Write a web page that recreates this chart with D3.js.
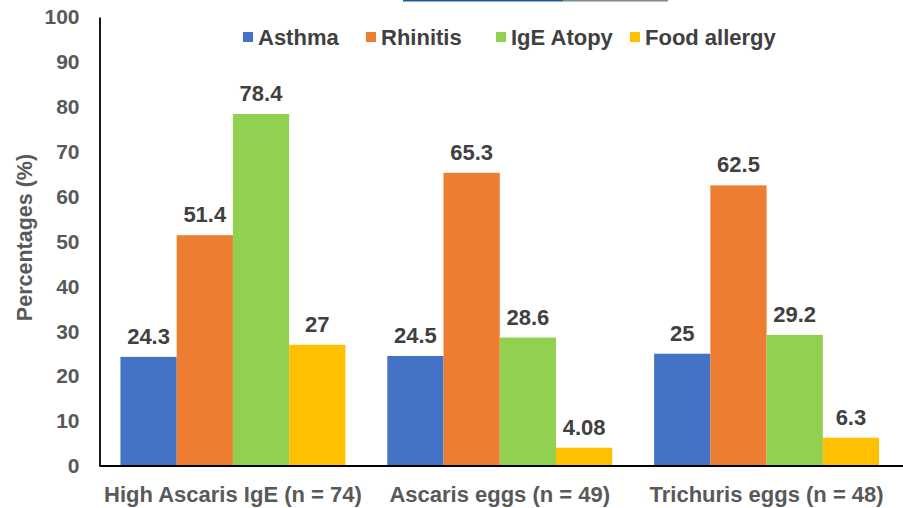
<!DOCTYPE html>
<html><head><meta charset="utf-8">
<script src="https://cdn.jsdelivr.net/npm/d3@7"></script>
<style>body{margin:0;background:#fff}svg{display:block}text{font-family:"Liberation Sans",Arial,sans-serif;font-weight:bold}</style>
</head><body>
<svg id="c" width="903" height="508"></svg>
<script>
const categories = ["High Ascaris IgE (n = 74)", "Ascaris eggs (n = 49)", "Trichuris eggs (n = 48)"];
const seriesNames = ["Asthma", "Rhinitis", "IgE Atopy", "Food allergy"];
const asthma = [24.3, 24.5, 25];
const rhinitis = [51.4, 65.3, 62.5];
const igeAtopy = [78.4, 28.6, 29.2];
const foodAllergy = [27, 4.08, 6.3];
const yTicks = [0,10,20,30,40,50,60,70,80,90,100];
const colors = ["#4472C4", "#ED7D31", "#92D050", "#FFC000"];
const series = [asthma, rhinitis, igeAtopy, foodAllergy];

(function(){
const svg = d3.select("#c");
// thin artifact strip at the very top of the reference image
svg.append("rect").attr("x",403).attr("y",0).attr("width",160).attr("height",1.5).attr("fill","#1f5c99");
svg.append("rect").attr("x",563).attr("y",0).attr("width",105).attr("height",1.5).attr("fill","#7f8c8c");

const mLeft = 99.5, mRight = 900, mTop = 17, mBottom = 466;
const x0 = d3.scaleBand().domain(categories).range([mLeft, mRight]).paddingInner(0.157).paddingOuter(0.0785);
const x1 = d3.scaleBand().domain(seriesNames).range([0, x0.bandwidth()]).padding(0);
const y = d3.scaleLinear().domain([0, 100]).range([mBottom, mTop]);

const textCol = "#404040";
const tickCol = "#595959";
// y axis
const ya = svg.append("g").attr("transform", `translate(${mLeft},0)`)
  .call(d3.axisLeft(y).tickValues(yTicks).tickSize(0).tickPadding(20));
ya.select(".domain").attr("stroke", "#000").attr("stroke-width", 1.8);
ya.selectAll("text").attr("font-size", 21).attr("fill", tickCol).attr("font-family", '"Liberation Sans",Arial,sans-serif');

// bars
categories.forEach((c, ci) => {
  const g = svg.append("g").attr("transform", `translate(${x0(c)},0)`);
  seriesNames.forEach((s, si) => {
    const v = series[si][ci];
    g.append("rect").attr("x", x1(s)).attr("y", y(v)).attr("width", x1.bandwidth()).attr("height", y(0) - y(v)).attr("fill", colors[si]);
    g.append("text").attr("x", x1(s) + x1.bandwidth()/2).attr("y", y(v) - 13)
      .attr("text-anchor", "middle").attr("font-size", 22).attr("fill", textCol).text(v);
  });
});

// x axis
const xa = svg.append("g").attr("transform", `translate(0,${mBottom})`)
  .call(d3.axisBottom(x0).tickSize(0).tickPadding(20));
xa.select(".domain").attr("d", `M${mLeft},0H903`).attr("stroke", "#000").attr("stroke-width", 1.8);
xa.selectAll("text").attr("font-size", 22).attr("fill", tickCol).attr("font-family", '"Liberation Sans",Arial,sans-serif');

// y title
svg.append("text").attr("transform", "translate(32,237.5) rotate(-90)").attr("text-anchor", "middle")
  .attr("font-size", 21.5).attr("fill", tickCol).text("Percentages (%)");

// legend
const legX = [243, 366, 496, 630];
seriesNames.forEach((s, i) => {
  svg.append("rect").attr("x", legX[i]).attr("y", 32).attr("width", 10).attr("height", 10).attr("fill", colors[i]);
  svg.append("text").attr("x", legX[i] + 15).attr("y", 45).attr("font-size", 22).attr("fill", textCol).text(s);
});
})();
</script>
</body></html>
